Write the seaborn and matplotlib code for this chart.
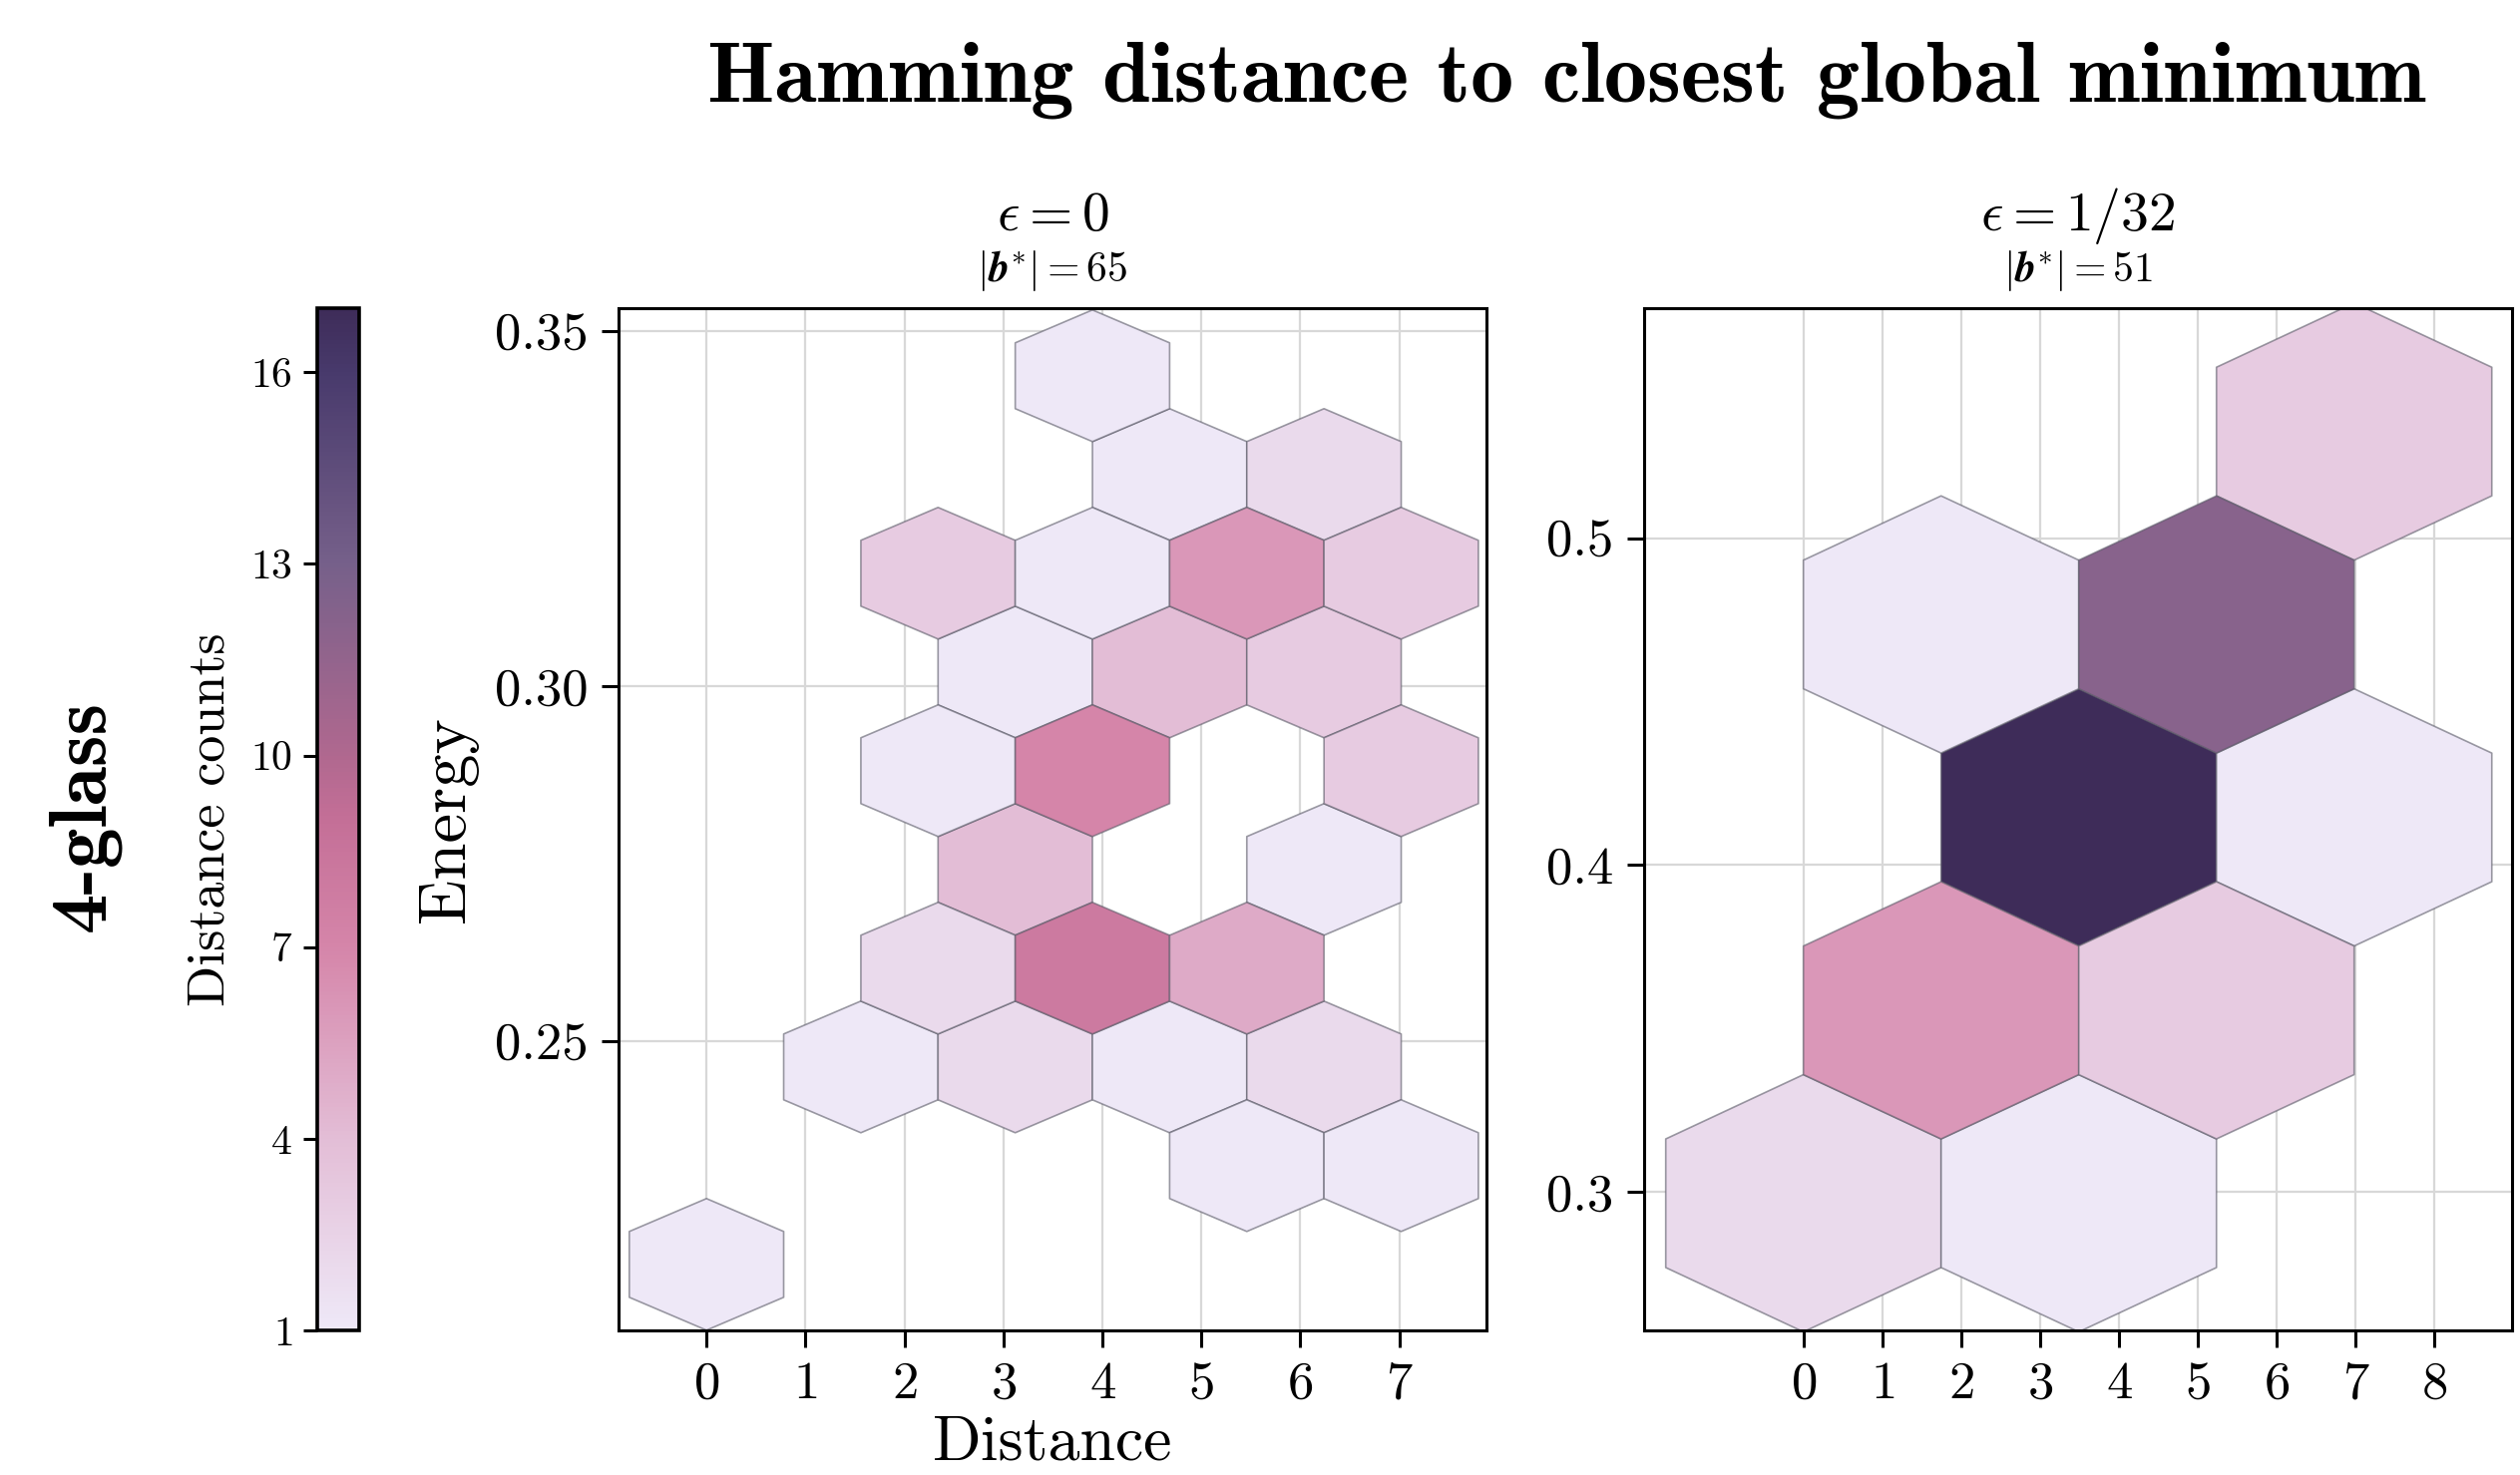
import numpy as np
import matplotlib
matplotlib.use("Agg")
import matplotlib.pyplot as plt
from matplotlib.colors import LinearSegmentedColormap, Normalize
from matplotlib.cm import ScalarMappable
import seaborn as sns

# hex centres (distance, energy) and counts
# eps = 0 panel
dist_0 = [0.0, 5.46, 7.02, 1.56, 3.12, 4.68, 6.24, 2.34, 3.90, 5.46, 3.12, 6.24,
          2.34, 3.90, 7.02, 3.12, 4.68, 6.24, 2.34, 3.90, 5.46, 7.02, 4.68, 6.24, 3.90]
energy_0 = [0.2186, 0.2325, 0.2325, 0.2464, 0.2464, 0.2464, 0.2464, 0.2603, 0.2603, 0.2603,
            0.2742, 0.2742, 0.2881, 0.2881, 0.2881, 0.3020, 0.3020, 0.3020,
            0.3159, 0.3159, 0.3159, 0.3159, 0.3298, 0.3298, 0.3437]
count_0 = [1, 1, 1, 1, 2, 1, 2, 2, 8, 5, 4, 1, 1, 7, 3, 1, 4, 3, 3, 1, 6, 3, 1, 2, 1]

# eps = 1/32 panel
dist_1 = [0.0, 3.49, 1.745, 5.235, 3.49, 6.98, 1.745, 5.235, 6.98]
energy_1 = [0.2966, 0.2966, 0.3556, 0.3556, 0.4146, 0.4146, 0.4736, 0.4736, 0.5326]
count_1 = [2, 1, 6, 3, 17, 1, 1, 12, 3]

titles = [r"$\epsilon = 0$", r"$\epsilon = 1/32$"]
subtitles = [r"$|\mathbfit{b}^{*}| = 65$", r"$|\mathbfit{b}^{*}| = 51$"]

sns.set_style("ticks")
plt.rcParams["font.family"] = ["cmr10"]
plt.rcParams["mathtext.fontset"] = "cm"
plt.rcParams["axes.formatter.use_mathtext"] = True
plt.rcParams["axes.unicode_minus"] = False
for k in ["text.color", "axes.labelcolor", "xtick.color", "ytick.color", "axes.edgecolor"]:
    plt.rcParams[k] = "black"

cmap = LinearSegmentedColormap.from_list(
    "counts",
    [(0.0, "#EEE8F7"), (3 / 16, "#E3BDD6"), (6 / 16, "#D585A9"), (8 / 16, "#C46F97"),
     (9 / 16, "#B0688F"), (12 / 16, "#76608A"), (15 / 16, "#483A6C"), (1.0, "#3E2C59")])
norm = Normalize(vmin=1, vmax=17)

fig = plt.figure(figsize=(12.63, 7.395), dpi=200)
ax1 = fig.add_axes([0.2454, 0.098, 0.3444, 0.693])
ax2 = fig.add_axes([0.6524, 0.098, 0.3444, 0.693])
cax = fig.add_axes([0.1259, 0.098, 0.0166, 0.693])

panels = [
    (ax1, dist_0, energy_0, count_0, (0, 7.8, 0.2186, 0.3576), (5, 5),
     (-0.89, 7.88), (0.2093, 0.3532), range(0, 8), [0.25, 0.30, 0.35], "%.2f"),
    (ax2, dist_1, energy_1, count_1, (0, 6.98, 0.2966, 0.5326), (2, 2),
     (-2.02, 8.98), (0.2577, 0.5703), range(0, 9), [0.3, 0.4, 0.5], "%.1f"),
]

for i, (ax, d, e, c, ext, gs, xl, yl, xt, yt, fmt) in enumerate(panels):
    x = np.repeat(d, c)
    y = np.repeat(e, c)
    ax.grid(True, color="#d8d8d8", linewidth=0.8, zorder=0)
    ax.set_axisbelow(True)
    ax.hexbin(x, y, gridsize=gs, extent=ext, mincnt=1, cmap=cmap, norm=norm,
              edgecolors=(0.35, 0.35, 0.4, 0.6), linewidths=0.6, zorder=2)
    ax.set_xlim(*xl)
    ax.set_ylim(*yl)
    ax.set_xticks(list(xt))
    ax.set_yticks(yt)
    ax.yaxis.set_major_formatter(matplotlib.ticker.FormatStrFormatter(fmt))
    ax.tick_params(labelsize=19, length=6, width=1.1, pad=5, direction="out")
    for sp in ax.spines.values():
        sp.set_linewidth(1.1)
    ax.text(0.5, 1.09, titles[i], transform=ax.transAxes, ha="center", va="center", fontsize=20)
    ax.text(0.5, 1.037, subtitles[i], transform=ax.transAxes, ha="center", va="center", fontsize=15)

ax1.set_xlabel("Distance", fontsize=23)
ax1.xaxis.set_label_coords(0.5, -0.082)
ax1.set_ylabel("Energy", fontsize=24, labelpad=6)

cb = fig.colorbar(ScalarMappable(norm=norm, cmap=cmap), cax=cax, ticks=[1, 4, 7, 10, 13, 16])
cax.yaxis.set_ticks_position("left")
cax.yaxis.set_label_position("left")
cax.tick_params(labelsize=15, length=5, width=1.1, pad=4)
cb.outline.set_linewidth(1.3)
cb.set_label("Distance counts", fontsize=19.5, labelpad=6)

fig.text(0.6215, 0.946, "Hamming distance to closest global minimum",
         fontfamily="cmb10", fontsize=31, ha="center", va="center")
fig.text(0.0333, 0.447, "4-glass", fontfamily="cmb10", fontsize=29,
         rotation=90, ha="center", va="center")

fig.savefig("out.png", dpi=200)
